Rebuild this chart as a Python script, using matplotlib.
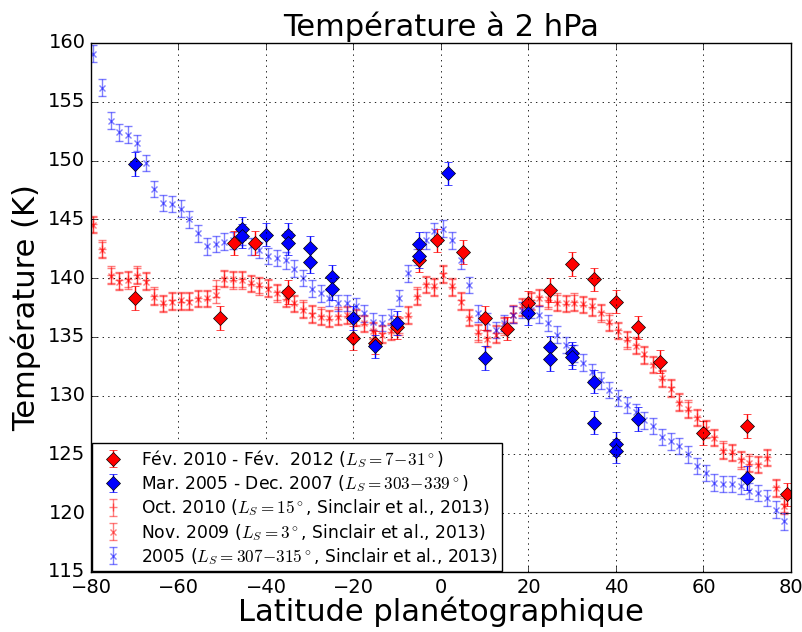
import matplotlib
matplotlib.use("Agg")
import matplotlib.pyplot as plt

plt.style.use("classic")

# ---- data ----
lat_s = [-79.5, -77.5, -75.5, -73.5, -71.5, -69.5, -67.5, -65.5, -63.5, -61.5,
         -59.5, -57.5, -55.5, -53.5, -51.5, -49.5, -47.5, -45.5, -43.5, -41.5,
         -39.5, -37.5, -35.5, -33.5, -31.5, -29.5, -27.5, -25.5, -23.5, -21.5,
         -19.5, -17.5, -15.5, -13.5, -11.5, -9.5, -7.5, -5.5, -3.5, -1.5,
         0.5, 2.5, 4.5, 6.5, 8.5, 10.5, 12.5, 14.5, 16.5, 18.5,
         20.5, 22.5, 24.5, 26.5, 28.5, 30.5, 32.5, 34.5, 36.5, 38.5,
         40.5, 42.5, 44.5, 46.5, 48.5, 50.5, 52.5, 54.5, 56.5, 58.5,
         60.5, 62.5, 64.5, 66.5, 68.5, 70.5, 72.5, 74.5, 76.5, 78.5]

t_2005 = [159.1, 156.2, 153.4, 152.4, 152.2, 151.5, 149.8, 147.6, 146.4, 146.3,
          145.9, 145.0, 143.8, 142.7, 142.9, 143.1, 143.2, 143.5, 142.7, 142.4,
          141.9, 141.7, 141.5, 140.8, 140.0, 139.1, 138.7, 138.3, 137.9, 137.9,
          137.6, 137.0, 136.3, 136.2, 136.7, 138.3, 140.4, 141.8, 143.2, 144.0,
          144.2, 143.2, 141.5, 139.4, 137.0, 136.3, 135.6, 136.2, 136.9, 137.3,
          137.3, 136.9, 136.2, 135.2, 134.3, 133.6, 132.8, 132.0, 131.3, 130.5,
          129.8, 129.2, 128.6, 127.9, 127.4, 126.5, 126.1, 125.7, 125.0, 124.0,
          123.4, 122.6, 122.5, 122.5, 122.3, 121.9, 121.7, 121.3, 120.3, 119.3]

t_nov2009 = [144.5, 142.4, 140.2, 139.7, 139.8, 140.2, 139.7, 138.4, 137.9, 138.0,
             138.1, 138.0, 138.2, 138.3, 138.6, 139.9, 139.9, 139.8, 139.6, 139.4,
             139.1, 138.7, 138.3, 137.9, 137.3, 136.9, 136.7, 136.6, 136.7, 136.9,
             136.6, 136.2, 135.5, 135.2, 135.5, 135.9, 136.9, 138.4, 139.4, 139.3,
             140.3, 139.3, 138.0, 136.6, 135.4, 134.8, 135.2, 136.0, 136.9, 137.6,
             138.0, 138.3, 138.2, 137.9, 137.9, 137.9, 137.8, 137.6, 137.0, 136.3,
             135.5, 134.8, 134.2, 133.5, 132.6, 131.5, 130.6, 129.4, 128.9, 128.1,
             127.2, 126.4, 125.3, 125.2, 124.5, 124.3, 124.1, 124.7, 122.1, 120.6]

t_oct2010 = [144.6, 142.5, 140.3, 139.8, 139.9, 140.3, 139.8, 138.5, 137.8, 138.1,
             138.0, 138.1, 138.3, 138.2, 139.1, 140.0, 139.8, 139.9, 139.5, 139.3,
             139.2, 138.8, 138.2, 137.8, 137.4, 137.0, 136.8, 136.5, 136.8, 136.8,
             136.7, 136.1, 135.6, 135.3, 135.4, 136.0, 136.8, 138.5, 139.5, 139.2,
             140.4, 139.2, 138.1, 136.7, 135.3, 134.9, 135.3, 135.9, 137.0, 137.5,
             138.1, 138.4, 138.1, 138.0, 137.8, 138.0, 137.7, 137.5, 137.1, 136.2,
             135.6, 134.7, 134.3, 133.4, 132.7, 131.4, 130.7, 129.5, 128.8, 128.2,
             127.1, 126.5, 125.4, 125.1, 124.6, 124.2, 124.2, 124.8, 122.2, 120.8]

err_s = [0.7] * len(lat_s)

lat_fev2010 = [-70, -50.5, -47.3, -42.5, -35, -20, -15, -10, -5, -1,
               5, 10, 15, 20, 25, 30, 35, 40, 45, 50, 60, 70, 79]
t_fev2010 = [138.3, 136.6, 143.0, 143.0, 138.8, 134.9, 134.5, 135.8, 141.5, 143.2,
             142.2, 136.6, 135.7, 137.9, 139.0, 141.2, 139.9, 138.0, 135.8, 132.9,
             126.8, 127.4, 121.6]
err_fev2010 = [1.0] * len(lat_fev2010)

lat_mar2005 = [-70, -45.5, -45.5, -40, -35, -35, -30, -30, -25, -25,
               -20, -15, -10, -5, -5, 1.5, 10, 20, 25, 25,
               30, 30, 35, 35, 40, 40, 45, 70]
t_mar2005 = [149.7, 144.2, 143.6, 143.7, 143.7, 143.0, 142.6, 141.4, 140.1, 139.1,
             136.6, 134.2, 136.2, 142.9, 141.9, 148.9, 133.2, 137.0, 134.1, 133.1,
             133.6, 133.3, 131.2, 127.7, 125.9, 125.3, 128.0, 123.0]
err_mar2005 = [1.0] * len(lat_mar2005)

labels = [r"Fév. 2010 - Fév.  2012 ($L_S=7\!-\!31^\circ$)",
          r"Mar. 2005 - Dec. 2007 ($L_S=303\!-\!339^\circ$)",
          r"Oct. 2010 ($L_S=15^\circ$, Sinclair et al., 2013)",
          r"Nov. 2009 ($L_S=3^\circ$, Sinclair et al., 2013)",
          r"2005 ($L_S=307\!-\!315^\circ$, Sinclair et al., 2013)"]

# ---- figure ----
fig = plt.figure(figsize=(8.03, 6.32), dpi=100, facecolor="white")
ax = fig.add_axes([0.1133, 0.095, 0.8717, 0.837])
ax.set_facecolor("white")

h3 = ax.errorbar(lat_s, t_oct2010, yerr=err_s, fmt="+", color="r", alpha=0.5,
                 capsize=3, markersize=6, mew=1, label=labels[2])
h4 = ax.errorbar(lat_s, t_nov2009, yerr=err_s, fmt="x", color="r", alpha=0.5,
                 capsize=3, markersize=5, mew=1, label=labels[3])
h5 = ax.errorbar(lat_s, t_2005, yerr=err_s, fmt="x", color="b", alpha=0.5,
                 capsize=3, markersize=5, mew=1, label=labels[4])
h1 = ax.errorbar(lat_fev2010, t_fev2010, yerr=err_fev2010, fmt="D", color="r",
                 mec="k", mew=0.5, markersize=7, capsize=3, label=labels[0])
h2 = ax.errorbar(lat_mar2005, t_mar2005, yerr=err_mar2005, fmt="D", color="b",
                 mec="k", mew=0.5, markersize=7, capsize=3, label=labels[1])

ax.set_xlim(-80, 80)
ax.set_ylim(115, 160)
ax.set_xticks(range(-80, 81, 20))
ax.set_yticks(range(115, 161, 5))
ax.tick_params(labelsize=14)
ax.grid(True, color="k", linestyle=":", linewidth=0.6)
ax.set_title("Température à 2 hPa", fontsize=22)
ax.set_xlabel("Latitude planétographique", fontsize=22, labelpad=0)
ax.set_ylabel("Température (K)", fontsize=22)

leg = ax.legend([h1, h2, h3, h4, h5], labels, loc="lower left", numpoints=1,
                fontsize=12.3, borderaxespad=0.05, handletextpad=0.6,
                labelspacing=0.2, borderpad=0.25, fancybox=False)
leg.get_frame().set_edgecolor("k")

fig.savefig("out.png", dpi=100, facecolor="white")
